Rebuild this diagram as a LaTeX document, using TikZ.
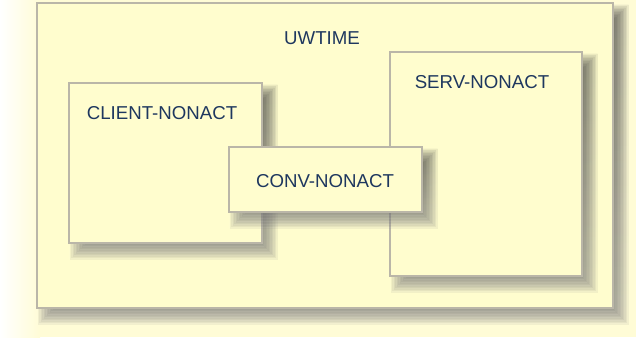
\documentclass[tikz,border=0pt]{standalone}
\usepackage{fontspec}
\setmainfont{Liberation Sans}
\usetikzlibrary{positioning}

\definecolor{paper}{RGB}{255,252,214}
\definecolor{boxfill}{RGB}{255,253,206}
\definecolor{boxline}{RGB}{186,182,168}
\definecolor{navy}{RGB}{30,55,95}
\definecolor{shade}{RGB}{150,95,15}

\tikzset{
  box/.style={draw=boxline, line width=0.8pt, fill=boxfill, inner sep=0pt},
  lbl/.style={text=navy, font=\fontsize{14}{16}\selectfont, inner sep=0pt}
}

% name, centre x, centre y, width, height (in px)
\newcommand{\shadedbox}[5]{%
  \foreach \e in {7.5,6,...,-7.5}{
    \fill[shade, opacity=0.05] ({#2-#4/2+8-(\e)},{#3-#5/2+9-(\e)}) rectangle ({#2+#4/2+8+(\e)},{#3+#5/2+9+(\e)});
  }
  \node[box, minimum width=#4*0.75pt, minimum height=#5*0.75pt] (#1) at (#2,#3) {};
}

\begin{document}
\begin{tikzpicture}[x=0.75pt,y=-0.75pt]
\useasboundingbox (0,0) rectangle (636,337);
% Background
\fill[paper] (0,0) rectangle (636,337);
\shade[left color=white, right color=paper] (0,0) rectangle (40,337);
% Boxes
\shadedbox{uwtime}{325}{155.5}{576}{305}
\shadedbox{client}{165.5}{163}{193}{160}
\shadedbox{serv}{486}{164}{192}{224}
\shadedbox{conv}{325.5}{179.5}{193}{65}
% Labels
\node[lbl] (uwtimetxt) at (322,38) {UWTIME};
\node[lbl] (clienttxt) at (162,113) {CLIENT-NONACT};
\node[lbl] (servtxt) at (482,82) {SERV-NONACT};
\node[lbl] (convtxt) at (325,181) {CONV-NONACT};
\end{tikzpicture}
\end{document}
